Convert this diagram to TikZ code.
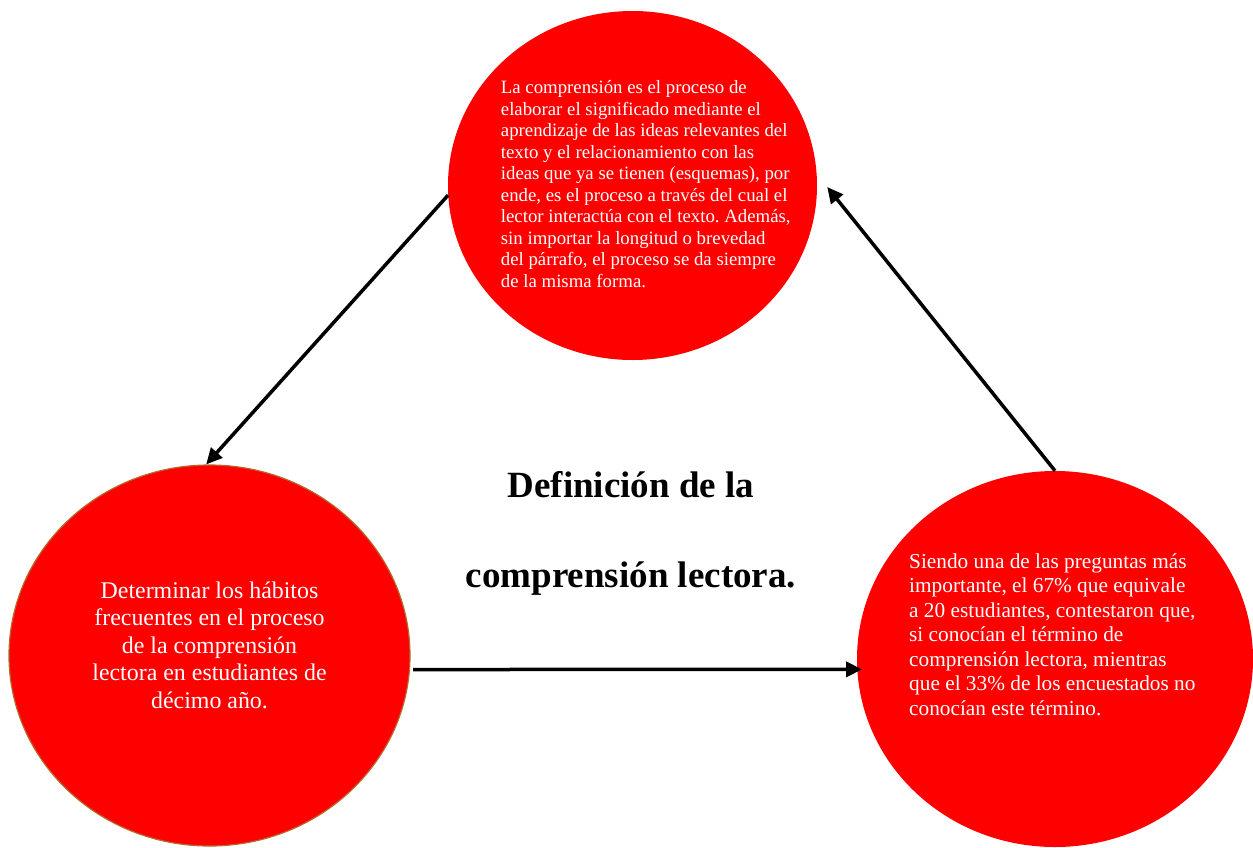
\documentclass[tikz,border=0pt]{standalone}
\usepackage{fontspec}
\setmainfont{Liberation Serif}
\frenchspacing
\usetikzlibrary{shapes.geometric,arrows.meta}
\definecolor{discred}{RGB}{255,0,0}
\definecolor{rimbrown}{RGB}{184,104,44}
\begin{document}
\begin{tikzpicture}[x=1pt,y=-1pt,
  disc/.style={ellipse,fill=discred,draw=none,inner sep=0pt},
  body/.style={text=white,inner sep=0pt},
  link/.style={line width=3.5pt,-{Triangle[length=16pt,width=15pt]}}]
\useasboundingbox (0,0) rectangle (1253,847);

% the three discs
\node[disc,minimum width=369pt,minimum height=349pt] (top) at (632.5,185.5) {};
\node[disc,draw=rimbrown,line width=1.2pt,minimum width=401pt,minimum height=381pt] (left) at (209.5,655.5) {};
\node[disc,minimum width=396pt,minimum height=376pt] (right) at (1055,659) {};

% texts inside the discs (base anchor = baseline of the last line)
\node[body,align=left,anchor=base west,font=\fontsize{18.8}{21.5}\selectfont] (toptext) at (500.7,287)
  {La comprensión es el proceso de\\
   elaborar el significado mediante el\\
   aprendizaje de las ideas relevantes del\\
   texto y el relacionamiento con las\\
   ideas que ya se tienen (esquemas), por\\
   ende, es el proceso a través del cual el\\
   lector interactúa con el texto. Además,\\
   sin importar la longitud o brevedad\\
   del párrafo, el proceso se da siempre\\
   de la misma forma.};
\node[body,align=center,anchor=base,font=\fontsize{23.9}{27.5}\selectfont] (lefttext) at (209.5,708.3)
  {Determinar los hábitos\\
   frecuentes en el proceso\\
   de la comprensión\\
   lectora en estudiantes de\\
   décimo año.};
\node[body,align=left,anchor=base west,font=\fontsize{21.3}{24.45}\selectfont] (righttext) at (909,715)
  {Siendo una de las preguntas más\\
   importante, el 67\% que equivale\\
   a 20 estudiantes, contestaron que,\\
   si conocían el término de\\
   comprensión lectora, mientras\\
   que el 33\% de los encuestados no\\
   conocían este término.};

% central title
\node[align=center,anchor=base,inner sep=0pt,font=\bfseries\fontsize{37}{90}\selectfont] (title) at (631,587)
  {Definición de la\\comprensión lectora.};

% connectors
\draw[link] (top.183) -- (left.91);
\draw[link,shorten <=3pt,shorten >=-5pt] (left.-4) -- (right.183);
\draw[link] (right.north) -- ([xshift=10pt,yshift=-1.5pt]top.east);
\end{tikzpicture}
\end{document}
